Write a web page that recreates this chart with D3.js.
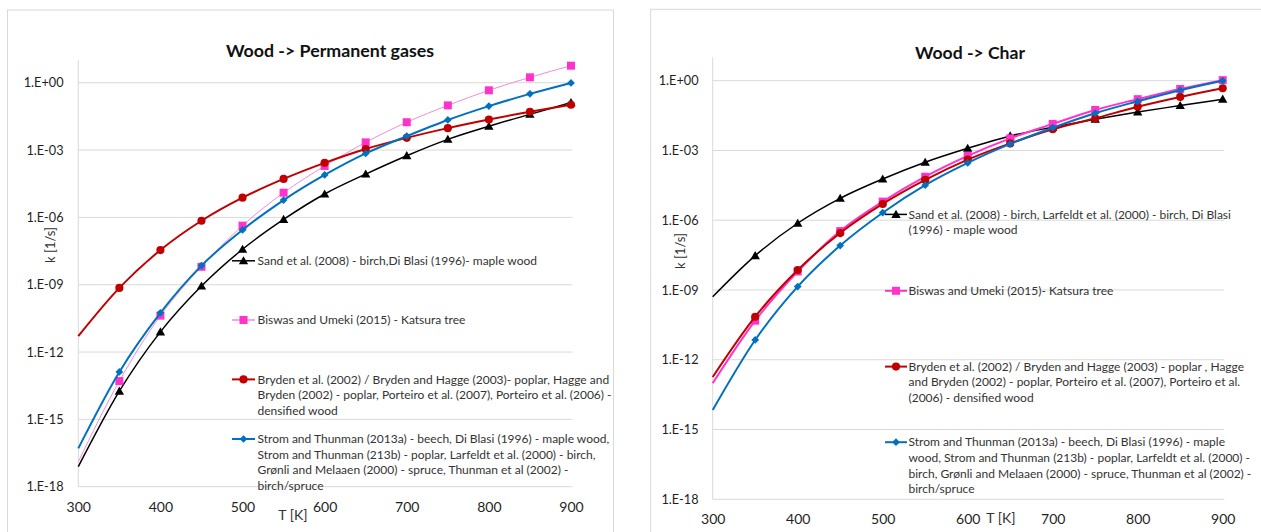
<!DOCTYPE html>
<html><head><meta charset="utf-8">
<script src="https://cdn.jsdelivr.net/npm/d3@7/dist/d3.min.js"></script>
<style>
body{margin:0;background:#fff}
svg{display:block}
text{font-family:Lato,"Open Sans","Noto Sans",sans-serif}
</style>
</head><body>
<svg id="c" width="1261" height="532"></svg>
<script>
// ---------------- DATA ----------------
const temperatures = [300, 350, 400, 450, 500, 550, 600, 650, 700, 750, 800, 850, 900];
const xTicks = [300, 400, 500, 600, 700, 800, 900];
const yTicks = [1e0, 1e-3, 1e-6, 1e-9, 1e-12, 1e-15, 1e-18];
const yTickLabels = ["1.E+00", "1.E-03", "1.E-06", "1.E-09", "1.E-12", "1.E-15", "1.E-18"];

// Wood -> Permanent gases, k [1/s]
const gasSand   = [7.8e-18, 1.8e-14, 7.9e-12, 8.7e-10, 3.8e-8, 8.1e-7, 1.1e-5, 8.5e-5, 5.6e-4, 3.0e-3, 1.15e-2, 3.9e-2, 0.13];
const gasBiswas = [1.3e-17, 5.1e-14, 4.2e-11, 6.3e-9, 4.3e-7, 1.26e-5, 1.95e-4, 2.2e-3, 1.74e-2, 9.8e-2, 0.46, 1.74, 5.75];
const gasBryden = [5.1e-12, 7.2e-10, 3.5e-8, 7.1e-7, 7.6e-6, 5.2e-5, 2.7e-4, 1.12e-3, 3.5e-3, 9.5e-3, 2.3e-2, 5.1e-2, 0.105];
const gasStrom  = [5.1e-17, 1.3e-13, 5.6e-11, 7.1e-9, 2.75e-7, 5.9e-6, 7.8e-5, 7.1e-4, 4.2e-3, 2.2e-2, 9.1e-2, 0.32, 0.98];

// Wood -> Char, k [1/s]
const charSand   = [5.1e-10, 3.0e-8, 7.4e-7, 8.7e-6, 5.9e-5, 3.1e-4, 1.23e-3, 4.2e-3, 1.0e-2, 2.2e-2, 4.5e-2, 8.5e-2, 0.16];
const charBiswas = [9.8e-14, 4.8e-11, 6.2e-9, 3.4e-7, 6.3e-6, 7.4e-5, 5.8e-4, 3.3e-3, 1.38e-2, 5.5e-2, 0.16, 0.44, 1.05];
const charBryden = [1.8e-13, 7.1e-11, 7.2e-9, 2.8e-7, 5.0e-6, 5.4e-5, 4.0e-4, 2.0e-3, 8.1e-3, 2.4e-2, 7.6e-2, 0.20, 0.47];
const charStrom  = [6.9e-15, 7.1e-12, 1.4e-9, 8.1e-8, 2.1e-6, 3.2e-5, 2.9e-4, 1.9e-3, 9.5e-3, 4.0e-2, 0.13, 0.39, 1.0];

const gasLegend = [
  ["Sand et al. (2008) - birch,Di Blasi (1996)- maple wood"],
  ["Biswas and Umeki (2015) - Katsura tree"],
  ["Bryden et al. (2002) / Bryden and Hagge (2003)- poplar, Hagge and",
   "Bryden (2002) - poplar, Porteiro et al. (2007), Porteiro et al. (2006) -",
   "densified wood"],
  ["Strom and Thunman (2013a) - beech, Di Blasi (1996) - maple wood,",
   "Strom and Thunman (213b) - poplar, Larfeldt et al. (2000) - birch,",
   "Grønli and Melaaen (2000) - spruce, Thunman et al (2002) -",
   "birch/spruce"]
];
const charLegend = [
  ["Sand et al. (2008) - birch, Larfeldt et al. (2000) - birch, Di Blasi",
   "(1996) - maple wood"],
  ["Biswas and Umeki (2015)- Katsura tree"],
  ["Bryden et al. (2002) / Bryden and Hagge (2003) - poplar , Hagge",
   "and Bryden (2002) - poplar, Porteiro et al. (2007), Porteiro et al.",
   "(2006) - densified wood"],
  ["Strom and Thunman (2013a) - beech, Di Blasi (1996) - maple",
   "wood, Strom and Thunman (213b) - poplar, Larfeldt et al. (2000) -",
   "birch, Grønli and Melaaen (2000) - spruce, Thunman et al (2002) -",
   "birch/spruce"]
];

// ---------------- STYLES / LAYOUT ----------------
const seriesStyles = [
  {name:"sand",   color:"#000000", marker:"#000000", width:1.5, symbol:"triangle"},
  {name:"biswas", color:"#FF33CC", marker:"#FF33CC", width:2,   symbol:"square"},
  {name:"bryden", color:"#C00000", marker:"#C00000", width:2,   symbol:"circle"},
  {name:"strom",  color:"#0070C0", marker:"#0070C0", width:2,   symbol:"diamond"}
];

const charts = [
  {
    title:"Wood -> Permanent gases", titleX:330, titleY:57, titleSize:17.8,
    border:{x:7.5, y:10, w:606, h:540},
    x0:78.3, x1:571, yBottom:486.7, yTop:60.3,
    yLabelX:63.5, xLabelY:507, kX:50, kY:245, tX:293, tY:515,
    series:[gasSand, gasBiswas, gasBryden, gasStrom],
    pinkLine:{color:"#F08CDC", width:1},
    legend:gasLegend,
    legendLineX0:232, legendLineX1:255, legendTextX:257.5,
    legendY:[260.8, 320, 379.4, 439], lineGap:15.6
  },
  {
    title:"Wood -> Char", titleX:970, titleY:58.5, titleSize:17.6,
    border:{x:650.7, y:9.3, w:640, h:540},
    x0:712.7, x1:1222.7, yBottom:499.3, yTop:57.4,
    yLabelX:698.5, xLabelY:519.5, kX:680, kY:251, tX:1001, tY:518.5,
    series:[charSand, charBiswas, charBryden, charStrom],
    pinkLine:{color:"#FF33CC", width:2},
    legend:charLegend,
    legendLineX0:885, legendLineX1:907, legendTextX:908.5,
    legendY:[214.4, 290.8, 366.6, 442.2], lineGap:15.65
  }
];

const svg = d3.select("#c");

function drawMarker(g, type, color, x, y) {
  if (type === "triangle") {
    g.append("path").attr("d", d3.symbol(d3.symbolTriangle, 38)())
      .attr("transform", `translate(${x},${y + 0.8})`).attr("fill", color);
  } else if (type === "square") {
    g.append("path").attr("d", d3.symbol(d3.symbolSquare, 64)())
      .attr("transform", `translate(${x},${y})`).attr("fill", color);
  } else if (type === "circle") {
    g.append("path").attr("d", d3.symbol(d3.symbolCircle, 52)())
      .attr("transform", `translate(${x},${y})`).attr("fill", color);
  } else {
    g.append("path").attr("d", d3.symbol(d3.symbolSquare, 30)())
      .attr("transform", `translate(${x},${y}) rotate(45)`).attr("fill", color);
  }
}

charts.forEach(ch => {
  const g = svg.append("g");
  g.append("rect").attr("x", ch.border.x).attr("y", ch.border.y)
    .attr("width", ch.border.w).attr("height", ch.border.h)
    .attr("fill", "none").attr("stroke", "#d9d9d9").attr("stroke-width", 1);

  const x = d3.scaleLinear().domain([300, 900]).range([ch.x0, ch.x1]);
  const y = d3.scaleLog().domain([1e-18, 1e1]).range([ch.yBottom, ch.yTop]);

  // gridlines
  g.append("g").selectAll("line").data(yTicks).join("line")
    .attr("x1", ch.x0).attr("x2", ch.x1 + 1.5)
    .attr("y1", d => y(d)).attr("y2", d => y(d))
    .attr("stroke", "#d9d9d9").attr("stroke-width", 1);
  // vertical axis line
  g.append("line").attr("x1", ch.x0).attr("x2", ch.x0)
    .attr("y1", ch.yTop).attr("y2", ch.yBottom)
    .attr("stroke", "#d9d9d9").attr("stroke-width", 1);

  // y tick labels via axis generator
  const yAxis = d3.axisLeft(y).tickValues(yTicks)
    .tickFormat((d, i) => yTickLabels[i]).tickSize(0).tickPadding(0);
  const ya = g.append("g").attr("transform", `translate(${ch.yLabelX},0)`).call(yAxis);
  ya.select(".domain").remove();
  ya.selectAll("text").attr("font-family", "Lato").attr("font-size", 12.7).attr("fill", "#1f1f1f");

  const xAxis = d3.axisBottom(x).tickValues(xTicks).tickFormat(d3.format("d")).tickSize(0).tickPadding(0);
  const xa = g.append("g").attr("transform", `translate(0,${ch.xLabelY})`).call(xAxis);
  xa.select(".domain").remove();
  xa.selectAll("text").attr("font-family", "Lato").attr("font-size", 14).attr("fill", "#1f1f1f")
    .attr("dy", "0.35em");

  // titles
  g.append("text").attr("x", ch.titleX).attr("y", ch.titleY).attr("text-anchor", "middle")
    .attr("font-weight", "bold").attr("font-size", ch.titleSize).attr("fill", "#111").text(ch.title);
  g.append("text").attr("transform", `translate(${ch.kX},${ch.kY}) rotate(-90)`)
    .attr("text-anchor", "middle").attr("dy", "0.35em").attr("font-size", 13).attr("fill", "#333").text("k [1/s]");
  g.append("text").attr("x", ch.tX).attr("y", ch.tY).attr("text-anchor", "middle")
    .attr("dy", "0.35em").attr("font-size", 14).attr("fill", "#333").text("T [K]");

  // series
  const line = d3.line().x((d, i) => x(temperatures[i])).y(d => y(d)).curve(d3.curveMonotoneX);
  ch.series.forEach((vals, si) => {
    const st = seriesStyles[si];
    const lc = si === 1 ? ch.pinkLine.color : st.color;
    const lw = si === 1 ? ch.pinkLine.width : st.width;
    const sg = g.append("g");
    sg.append("path").attr("d", line(vals)).attr("fill", "none")
      .attr("stroke", lc).attr("stroke-width", lw).attr("stroke-linejoin", "round");
    vals.forEach((v, i) => {
      if (i === 0) return;
      drawMarker(sg, st.symbol, st.marker, x(temperatures[i]), y(v));
    });
    // legend
    const ly = ch.legendY[si];
    sg.append("line").attr("x1", ch.legendLineX0).attr("x2", ch.legendLineX1)
      .attr("y1", ly).attr("y2", ly).attr("stroke", lc).attr("stroke-width", Math.max(lw, 1.5));
    drawMarker(sg, st.symbol, st.marker, (ch.legendLineX0 + ch.legendLineX1) / 2, ly);
    ch.legend[si].forEach((t, li) => {
      sg.append("text").attr("x", ch.legendTextX).attr("y", ly + li * ch.lineGap)
        .attr("dy", "0.35em").attr("font-size", 12).attr("fill", "#333").text(t);
    });
  });
});
</script>
</body></html>
